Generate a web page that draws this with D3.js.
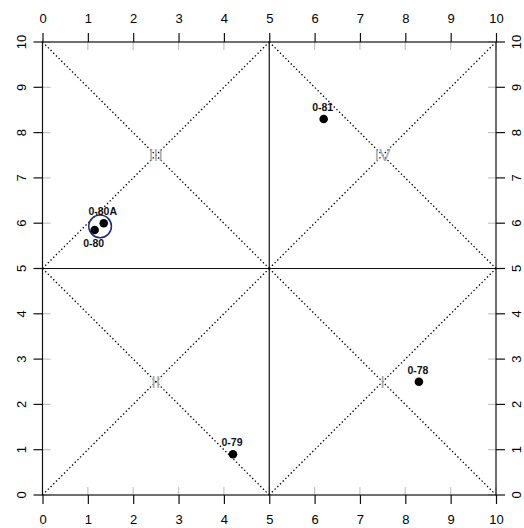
<!DOCTYPE html>
<html>
<head>
<meta charset="utf-8">
<script src="https://cdn.jsdelivr.net/npm/d3@7"></script>
<style>
  html, body { margin: 0; padding: 0; background: #fff; }
  svg { display: block; font-family: "Liberation Sans", Arial, sans-serif; }
</style>
</head>
<body>
<svg id="chart" width="524" height="528"></svg>
<script>
// Sample sites plotted on a 0–10 quadrant grid
const siteNames = ["0-78", "0-79", "0-80", "0-80A", "0-81"];
const siteX = [8.3, 4.2, 1.15, 1.35, 6.2];
const siteY = [2.5, 0.9, 5.85, 6.0, 8.3];
const labelSide = ["above", "above", "below", "above", "above"];

// Quadrant names and centres
const quadNames = ["I", "II", "III", "IV"];
const quadX = [7.5, 2.5, 2.5, 7.5];
const quadY = [2.5, 2.5, 7.5, 7.5];

// Highlighted pair (0-80 / 0-80A)
const ringX = [1.27];
const ringY = [5.93];
const ringR = [0.25];

const tickValues = [0, 1, 2, 3, 4, 5, 6, 7, 8, 9, 10];

const svg = d3.select("#chart");
const x = d3.scaleLinear().domain([0, 10]).range([42.5, 496]);
const y = d3.scaleLinear().domain([0, 10]).range([495, 42]);

// Dotted diagonals inside each quadrant
const diag = svg.append("g")
  .attr("stroke", "#000").attr("stroke-width", 1.3)
  .attr("stroke-dasharray", "1.4,2.4").attr("fill", "none");
[[0, 5], [5, 10]].forEach(([x0, x1]) => {
  [[0, 5], [5, 10]].forEach(([y0, y1]) => {
    diag.append("line").attr("x1", x(x0)).attr("y1", y(y0)).attr("x2", x(x1)).attr("y2", y(y1));
    diag.append("line").attr("x1", x(x0)).attr("y1", y(y1)).attr("x2", x(x1)).attr("y2", y(y0));
  });
});

// Inner grey tick stubs on all four sides
const inner = svg.append("g").attr("stroke", "#c4c4c4").attr("stroke-width", 1.2);
tickValues.forEach(v => {
  inner.append("line").attr("x1", x(v)).attr("x2", x(v)).attr("y1", y(10)).attr("y2", y(10) + 8);
  inner.append("line").attr("x1", x(v)).attr("x2", x(v)).attr("y1", y(0)).attr("y2", y(0) - 8);
  inner.append("line").attr("y1", y(v)).attr("y2", y(v)).attr("x1", x(0)).attr("x2", x(0) + 8);
  inner.append("line").attr("y1", y(v)).attr("y2", y(v)).attr("x1", x(10)).attr("x2", x(10) - 8);
});

// Solid frame and central cross
const frame = svg.append("g").attr("stroke", "#111").attr("stroke-width", 1.2).attr("fill", "none");
frame.append("rect").attr("x", x(0)).attr("y", y(10)).attr("width", x(10) - x(0)).attr("height", y(0) - y(10));
frame.append("line").attr("x1", x(5)).attr("x2", x(5)).attr("y1", y(0)).attr("y2", y(10));
frame.append("line").attr("x1", x(0)).attr("x2", x(10)).attr("y1", y(5)).attr("y2", y(5));

// Axes on all four sides with outward ticks
function styleAxis(g) {
  g.select(".domain").remove();
  g.selectAll(".tick line").attr("stroke", "#111").attr("stroke-width", 1.2);
  g.selectAll(".tick text").attr("fill", "#000").attr("font-size", 13)
    .attr("font-family", "'Liberation Sans', Arial, sans-serif");
}
svg.append("g").attr("transform", `translate(0,${y(10)})`)
  .call(d3.axisTop(x).tickValues(tickValues).tickFormat(d3.format("d")).tickSize(9).tickPadding(10))
  .call(styleAxis);
svg.append("g").attr("transform", `translate(0,${y(0)})`)
  .call(d3.axisBottom(x).tickValues(tickValues).tickFormat(d3.format("d")).tickSize(9).tickPadding(11))
  .call(styleAxis);

function sideAxis(xLine, labelX, dir) {
  const g = svg.append("g");
  tickValues.forEach(v => {
    g.append("line").attr("x1", xLine).attr("x2", xLine + dir * 9)
      .attr("y1", y(v)).attr("y2", y(v)).attr("stroke", "#111").attr("stroke-width", 1.2);
    g.append("text").attr("transform", `translate(${labelX},${y(v)}) rotate(-90)`)
      .attr("text-anchor", "middle").attr("dy", "0.35em")
      .attr("font-size", 13).attr("fill", "#000").text(v);
  });
}
sideAxis(x(0), 21, -1);
sideAxis(x(10), 516.5, 1);

// Quadrant numerals
svg.append("g").selectAll("text").data(quadNames).join("text")
  .attr("x", (d, i) => x(quadX[i])).attr("y", (d, i) => y(quadY[i]))
  .attr("dy", "0.36em").attr("text-anchor", "middle")
  .attr("font-size", 17).attr("fill", "#a8a8a8")
  .text(d => d);

// Ring around the paired samples
svg.append("g").selectAll("circle").data(ringX).join("circle")
  .attr("cx", (d, i) => x(d)).attr("cy", (d, i) => y(ringY[i]))
  .attr("r", (d, i) => x(ringR[i]) - x(0))
  .attr("fill", "none").attr("stroke", "#1f2a80").attr("stroke-width", 1.5);

// Sample points and labels
const pts = svg.append("g");
pts.selectAll("circle").data(siteNames).join("circle")
  .attr("cx", (d, i) => x(siteX[i])).attr("cy", (d, i) => y(siteY[i]))
  .attr("r", 4.3).attr("fill", "#000");
pts.selectAll("text").data(siteNames).join("text")
  .attr("x", (d, i) => x(siteX[i]) - 1)
  .attr("y", (d, i) => y(siteY[i]) + (labelSide[i] === "above" ? -8 : 17))
  .attr("text-anchor", "middle").attr("font-size", 10.5).attr("fill", "#111")
  .attr("font-weight", "bold")
  .text(d => d);
</script>
</body>
</html>
